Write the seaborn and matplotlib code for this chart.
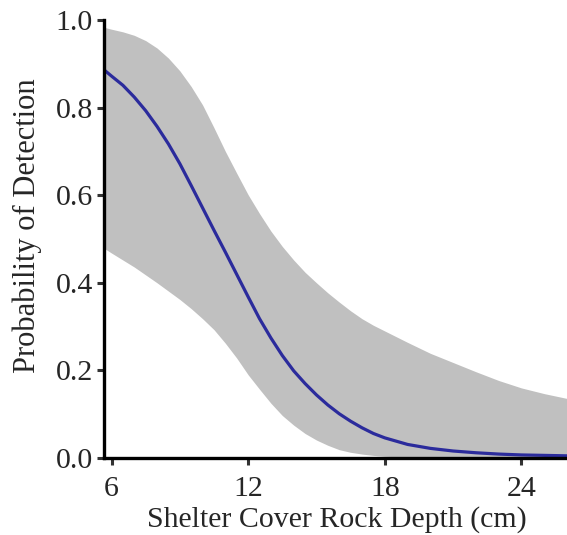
import numpy as np
import pandas as pd
import matplotlib
matplotlib.use("Agg")
import matplotlib.pyplot as plt
import seaborn as sns

# values
depth = [5.7, 6, 6.5, 7, 7.5, 8, 8.5, 9, 9.5, 10, 10.5, 11, 11.5, 12, 12.5, 13, 13.5, 14, 14.5,
         15, 15.5, 16, 16.5, 17, 17.5, 18, 19, 20, 21, 22, 23, 24, 25, 26]
p_mean = [0.885, 0.872, 0.851, 0.824, 0.793, 0.757, 0.717, 0.672, 0.622, 0.571, 0.520, 0.470,
          0.419, 0.368, 0.318, 0.274, 0.234, 0.199, 0.170, 0.144, 0.121, 0.101, 0.084,
          0.069, 0.056, 0.046, 0.031, 0.022, 0.016, 0.012, 0.009, 0.007, 0.006, 0.005]
p_upper = [0.983, 0.979, 0.973, 0.965, 0.953, 0.936, 0.913, 0.884, 0.848, 0.806, 0.754, 0.700,
           0.650, 0.601, 0.558, 0.518, 0.483, 0.452, 0.424, 0.400, 0.377, 0.356, 0.336,
           0.318, 0.303, 0.290, 0.264, 0.239, 0.218, 0.197, 0.177, 0.160, 0.147, 0.136]
p_lower = [0.478, 0.468, 0.452, 0.436, 0.418, 0.400, 0.381, 0.362, 0.341, 0.318, 0.293, 0.262,
           0.228, 0.190, 0.157, 0.125, 0.097, 0.075, 0.056, 0.041, 0.029, 0.019, 0.013,
           0.009, 0.006, 0.004, 0.002, 0.001, 0.0, 0.0, 0.0, 0.0, 0.0, 0.0]
x_ticks = [6, 12, 18, 24]
y_ticks = [0.0, 0.2, 0.4, 0.6, 0.8, 1.0]

df = pd.DataFrame({'depth': depth, 'mean': p_mean, 'upper': p_upper, 'lower': p_lower})

sns.set_style("ticks")
plt.rcParams['font.family'] = ['Liberation Serif', 'DejaVu Serif']

fig = plt.figure(figsize=(5.67, 5.35), dpi=100)
ax = fig.add_axes([0.1834, 0.1439, 0.8166, 0.8187])

# confidence band + fitted curve
ax.fill_between(df['depth'], df['lower'], df['upper'], color='#c0c0c0', linewidth=0, zorder=1)
sns.lineplot(data=df, x='depth', y='mean', ax=ax, color='#2b2b9c', linewidth=2.3, zorder=2)

ax.set_xlim(5.67, 26.0)
ax.set_ylim(0, 1.0)
ax.set_xticks(x_ticks)
ax.set_yticks(y_ticks)
ax.set_yticklabels([f'{v:.1f}' for v in y_ticks])

ax.set_xlabel('Shelter Cover Rock Depth (cm)', fontsize=21.5)
ax.set_ylabel('Probability of Detection', fontsize=22)
ax.xaxis.set_label_coords(0.502, -0.109)
ax.yaxis.set_label_coords(-0.1346, 0.531)
ax.tick_params(axis='both', labelsize=21.5, width=2.2, length=5, color='#333333', pad=3)
ax.tick_params(axis='x', pad=8)

for side in ['top', 'right']:
    ax.spines[side].set_visible(False)
for side in ['left', 'bottom']:
    ax.spines[side].set_linewidth(2.4)
    ax.spines[side].set_color('black')

plt.savefig('out.png', dpi=100)
